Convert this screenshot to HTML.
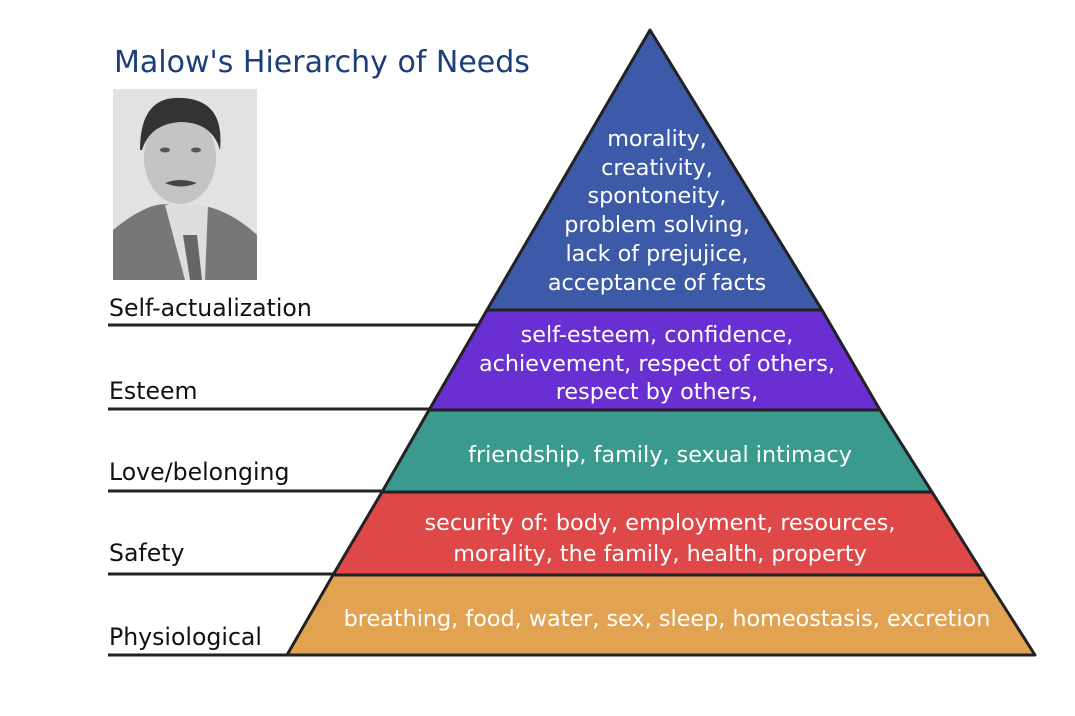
<!DOCTYPE html>
<html><head><meta charset="utf-8"><style>
body{margin:0;background:#fff;}
svg{display:block;font-family:"DejaVu Sans","Liberation Sans",sans-serif;}
</style></head><body>
<svg width="1075" height="716" viewBox="0 0 1075 716">
<rect width="1075" height="716" fill="#fff"/>
<text x="114" y="72" font-size="30" fill="#1c3f7a">Malow's Hierarchy of Needs</text>
<!-- photo -->
<rect x="113" y="89" width="144" height="191" fill="#e2e2e2"/>
<path d="M113 230 Q150 200 170 205 L200 205 Q230 210 257 235 L257 280 L113 280Z" fill="#777"/>
<path d="M165 205 L185 280 L205 280 L208 205Z" fill="#ddd"/>
<path d="M183 235 L190 280 L202 280 L197 235Z" fill="#666"/>
<ellipse cx="180" cy="158" rx="36" ry="46" fill="#c4c4c4"/>
<path d="M140 150 Q140 95 182 98 Q225 100 220 150 Q212 122 180 122 Q150 124 142 150Z" fill="#333"/>
<path d="M165 183 Q180 177 197 183 Q181 190 165 183Z" fill="#444"/>
<ellipse cx="165" cy="150" rx="5" ry="2.5" fill="#555"/>
<ellipse cx="196" cy="150" rx="5" ry="2.5" fill="#555"/>
<!-- pyramid -->
<g stroke="#222" stroke-width="3" stroke-linejoin="round">
<polygon points="650,30 487,310 822,310" fill="#3d5aa8"/>
<polygon points="487,310 822,310 880,410 429,410" fill="#6a2fd2"/>
<polygon points="429,410 880,410 932,492 382,492" fill="#3a9a8d"/>
<polygon points="382,492 932,492 984,575 333,575" fill="#de4848"/>
<polygon points="333,575 984,575 1035,655 287,655" fill="#e1a352"/>
</g>
<g stroke="#222" stroke-width="3">
<line x1="108" y1="325" x2="478" y2="325"/>
<line x1="108" y1="409" x2="430" y2="409"/>
<line x1="108" y1="491" x2="383" y2="491"/>
<line x1="108" y1="574" x2="334" y2="574"/>
<line x1="108" y1="655" x2="288" y2="655"/>
</g>
<g font-size="23.6" fill="#111">
<text x="109" y="316">Self-actualization</text>
<text x="109" y="399">Esteem</text>
<text x="109" y="480">Love/belonging</text>
<text x="109" y="561">Safety</text>
<text x="109" y="645">Physiological</text>
</g>
<g font-size="22.3" fill="#fff" text-anchor="middle">
<text x="657" y="146">morality,</text>
<text x="657" y="175">creativity,</text>
<text x="657" y="203">spontoneity,</text>
<text x="657" y="232">problem solving,</text>
<text x="657" y="261">lack of prejujice,</text>
<text x="657" y="290">acceptance of facts</text>
<text x="657" y="342">self-esteem, confidence,</text>
<text x="657" y="371">achievement, respect of others,</text>
<text x="657" y="399">respect by others,</text>
<text x="660" y="462">friendship, family, sexual intimacy</text>
<text x="660" y="530">security of: body, employment, resources,</text>
<text x="660" y="561">morality, the family, health, property</text>
<text x="667" y="626">breathing, food, water, sex, sleep, homeostasis, excretion</text>
</g>
</svg>
</body></html>
